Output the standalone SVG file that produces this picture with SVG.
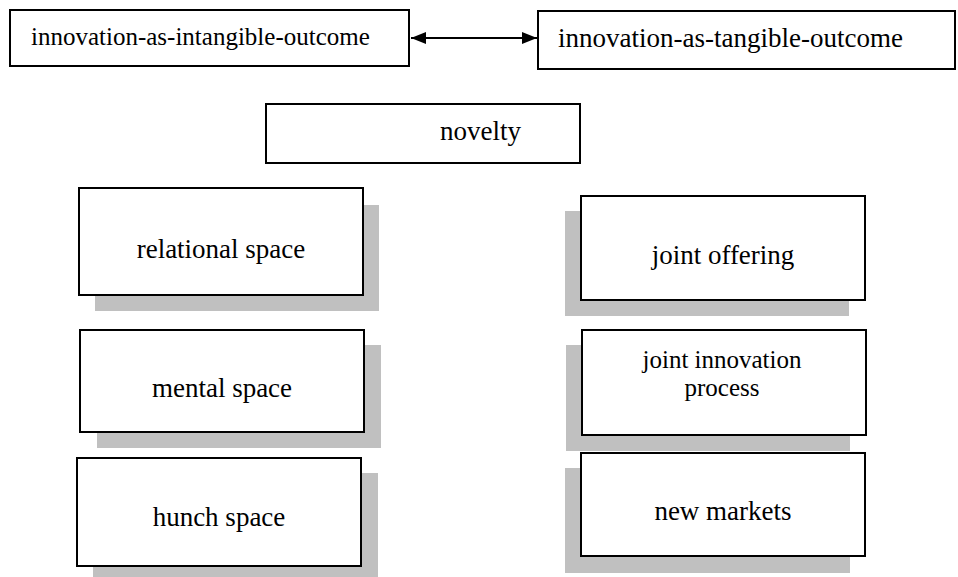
<svg xmlns="http://www.w3.org/2000/svg" width="958" height="577" viewBox="0 0 958 577">
<defs>
<style>
.box{fill:#fff;stroke:#000;stroke-width:2}
.sh{fill:#c0c0c0}
.t{font-family:"Liberation Serif","Times New Roman",serif;font-size:27px;fill:#000}
.c{text-anchor:middle}
</style>
<marker id="ah" viewBox="0 0 15 12" refX="15" refY="6" markerWidth="15" markerHeight="12" markerUnits="userSpaceOnUse" orient="auto-start-reverse">
<path d="M0,0 L15,6 L0,12 z" fill="#000"/>
</marker>
</defs>
<rect width="958" height="577" fill="#fff"/>
<g id="connectors">
<line x1="411" y1="38" x2="537" y2="38" stroke="#000" stroke-width="2" marker-start="url(#ah)" marker-end="url(#ah)"/>
</g>
<g id="intangible">
<rect class="box" x="10" y="10" width="399" height="56"/>
<text class="t" x="31" y="45" style="font-size:25px">innovation-as-intangible-outcome</text>
</g>
<g id="tangible">
<rect class="box" x="538" y="11" width="417" height="58"/>
<text class="t" x="558" y="47">innovation-as-tangible-outcome</text>
</g>
<g id="novelty">
<rect class="box" x="266" y="104" width="314" height="59"/>
<text class="t" x="440" y="140">novelty</text>
</g>
<g id="relational">
<rect class="sh" x="95" y="205" width="284" height="106"/>
<rect class="box" x="79" y="188" width="284" height="107"/>
<text class="t c" x="221" y="258">relational space</text>
</g>
<g id="mental">
<rect class="sh" x="97" y="345" width="284" height="103"/>
<rect class="box" x="80" y="330" width="284" height="102"/>
<text class="t c" x="222" y="397">mental space</text>
</g>
<g id="hunch">
<rect class="sh" x="93" y="473" width="285" height="104"/>
<rect class="box" x="77" y="458" width="284" height="108"/>
<text class="t c" x="219" y="526">hunch space</text>
</g>
<g id="offering">
<rect class="sh" x="565" y="211" width="284" height="105"/>
<rect class="box" x="581" y="196" width="284" height="104"/>
<text class="t c" x="723" y="264">joint offering</text>
</g>
<g id="process">
<rect class="sh" x="566" y="345" width="284" height="106"/>
<rect class="box" x="582" y="330" width="284" height="105"/>
<text class="t c" x="722" y="368" style="font-size:25px">joint innovation</text>
<text class="t c" x="722" y="396" style="font-size:25px">process</text>
</g>
<g id="markets">
<rect class="sh" x="565" y="468" width="285" height="105"/>
<rect class="box" x="581" y="453" width="284" height="103"/>
<text class="t c" x="723" y="520">new markets</text>
</g>
</svg>
